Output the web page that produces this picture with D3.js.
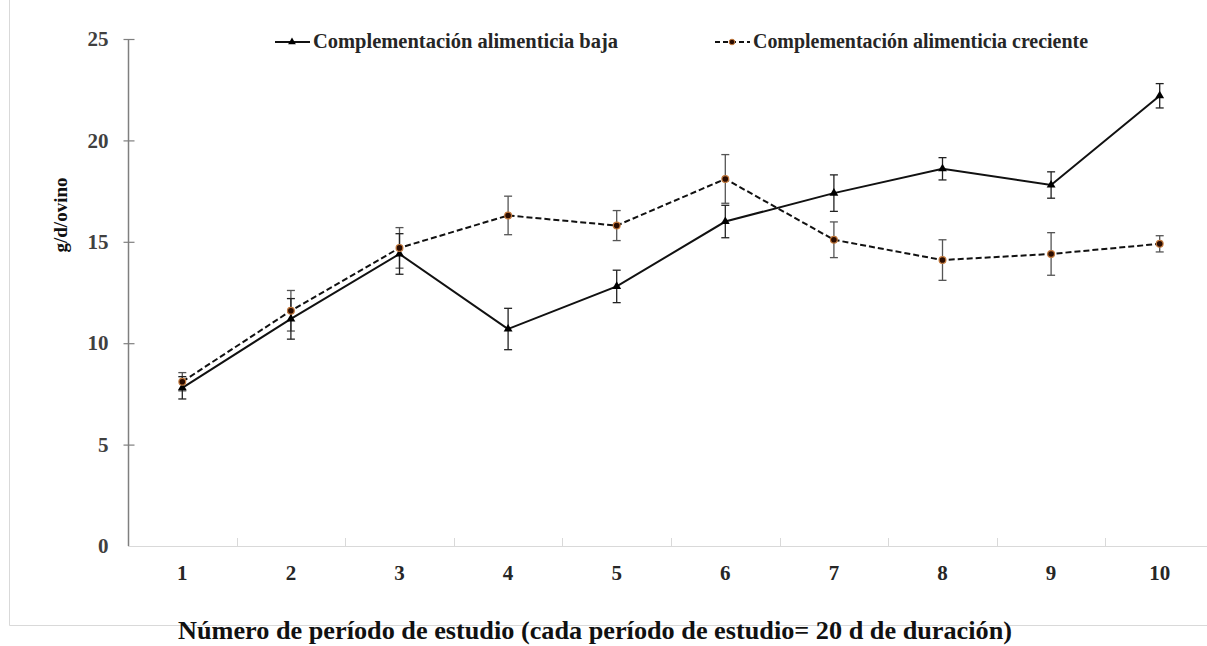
<!DOCTYPE html>
<html>
<head>
<meta charset="utf-8">
<script src="https://cdn.jsdelivr.net/npm/d3@7"></script>
<style>
  html, body { margin: 0; padding: 0; background: #fff; }
  svg text { font-family: 'Liberation Serif', 'Times New Roman', Times, serif !important; }
</style>
</head>
<body>
<svg id="chart" width="1207" height="646"></svg>
<script>
// Study periods (20 d each)
const periods = [1, 2, 3, 4, 5, 6, 7, 8, 9, 10];
// Daily gain, g/d/ovino
const bajaValues      = [7.8, 11.2, 14.4, 10.7, 12.8, 16.0, 17.4, 18.6, 17.8, 22.2];
const bajaErrors      = [0.55, 1.0, 1.0, 1.02, 0.8, 0.8, 0.9, 0.55, 0.65, 0.6];
const crecienteValues = [8.1, 11.6, 14.7, 16.3, 15.8, 18.1, 15.1, 14.1, 14.4, 14.9];
const crecienteErrors = [0.45, 1.0, 1.0, 0.95, 0.74, 1.2, 0.88, 1.0, 1.05, 0.4];
const yTicks = [0, 5, 10, 15, 20, 25];
const seriesNames = ["Complementación alimenticia baja", "Complementación alimenticia creciente"];
const yLabel = "g/d/ovino";
const xLabel = "Número de período de estudio (cada período de estudio= 20 d de duración)";

const svg = d3.select("#chart");

// outer frame
svg.append("path")
  .attr("d", "M9.5,-1 V625.5 H1208")
  .attr("fill", "none").attr("stroke", "#d9d9d9").attr("stroke-width", 1);

const x = d3.scaleBand().domain(periods).range([128, 1214]).paddingInner(0).paddingOuter(0);
const y = d3.scaleLinear().domain([0, 25]).range([546, 39]);
const cx = d => x(d) + x.bandwidth() / 2;

// x axis: light category line with upward boundary ticks
svg.append("line")
  .attr("x1", 128).attr("x2", 1207).attr("y1", y(0) + 0.5).attr("y2", y(0) + 0.5)
  .attr("stroke", "#d9d9d9").attr("stroke-width", 1.2);
svg.selectAll(".xtick").data(periods.slice(1)).enter().append("line")
  .attr("x1", d => Math.round(x(d)) + 0.5).attr("x2", d => Math.round(x(d)) + 0.5)
  .attr("y1", y(0)).attr("y2", y(0) - 8)
  .attr("stroke", "#d9d9d9").attr("stroke-width", 1);
svg.selectAll(".xlab").data(periods).enter().append("text")
  .attr("x", d => cx(d)).attr("y", 580)
  .attr("text-anchor", "middle")
  .attr("font-size", 21).attr("font-weight", "bold").attr("fill", "#262626")
  .text(d => d);

// y axis
const yAxis = d3.axisLeft(y).tickValues(yTicks).tickSize(0).tickPadding(20);
const gy = svg.append("g").attr("transform", "translate(128.5,0)").call(yAxis);
gy.select(".domain").attr("stroke", "#7f7f7f").attr("stroke-width", 1.5)
  .attr("d", `M0,${y(25)}V${y(0)}`);
gy.selectAll(".tick text")
  .attr("font-size", 21).attr("font-weight", "bold").attr("fill", "#404040")
  .attr("dy", "0.32em");
gy.selectAll(".tick").filter(d => d > 0).append("line")
  .attr("x1", -5).attr("x2", 6).attr("stroke", "#7f7f7f").attr("stroke-width", 1.2);

// axis titles
svg.append("text")
  .attr("transform", "translate(67,215) rotate(-90)")
  .attr("text-anchor", "middle")
  .attr("font-size", 19).attr("font-weight", "bold").attr("fill", "#111")
  .text(yLabel);
svg.append("text")
  .attr("x", 178).attr("y", 639)
  .attr("textLength", 834).attr("lengthAdjust", "spacingAndGlyphs")
  .attr("font-size", 25).attr("font-weight", "bold").attr("fill", "#111")
  .text(xLabel);

const line = d3.line().x((d, i) => cx(periods[i])).y(d => y(d));

function errorBars(values, errors, color) {
  const g = svg.append("g").attr("stroke", color).attr("stroke-width", 1.3).attr("fill", "none");
  values.forEach((v, i) => {
    const px = cx(periods[i]);
    const top = y(v + errors[i]), bot = y(v - errors[i]);
    g.append("line").attr("x1", px).attr("x2", px).attr("y1", top).attr("y2", bot);
    g.append("line").attr("x1", px - 4).attr("x2", px + 4).attr("y1", top).attr("y2", top);
    g.append("line").attr("x1", px - 4).attr("x2", px + 4).attr("y1", bot).attr("y2", bot);
  });
}

errorBars(crecienteValues, crecienteErrors, "#555");
errorBars(bajaValues, bajaErrors, "#222");

// series lines
svg.append("path").datum(crecienteValues)
  .attr("d", line).attr("fill", "none")
  .attr("stroke", "#111").attr("stroke-width", 2).attr("stroke-dasharray", "6,3");
svg.append("path").datum(bajaValues)
  .attr("d", line).attr("fill", "none")
  .attr("stroke", "#111").attr("stroke-width", 2);

// markers
const triPath = d3.symbol().type(d3.symbolTriangle).size(34)();
svg.selectAll(".tri").data(bajaValues).enter().append("path")
  .attr("d", triPath)
  .attr("transform", (d, i) => `translate(${cx(periods[i])},${y(d)})`)
  .attr("fill", "#000");
svg.selectAll(".dot").data(crecienteValues).enter().append("circle")
  .attr("cx", (d, i) => cx(periods[i])).attr("cy", d => y(d)).attr("r", 3.4)
  .attr("fill", "#2a0c00").attr("stroke", "#c47a3d").attr("stroke-width", 1.2);

// legend
const leg = svg.append("g");
leg.append("line").attr("x1", 275).attr("x2", 310).attr("y1", 42).attr("y2", 42)
  .attr("stroke", "#111").attr("stroke-width", 2);
leg.append("path").attr("d", d3.symbol().type(d3.symbolTriangle).size(26)())
  .attr("transform", "translate(292,42)").attr("fill", "#000");
leg.append("text").attr("x", 313).attr("y", 48)
  .attr("textLength", 305).attr("lengthAdjust", "spacingAndGlyphs")
  .attr("font-size", 20).attr("font-weight", "bold").attr("fill", "#262626")
  .text(seriesNames[0]);
leg.append("line").attr("x1", 715).attr("x2", 750).attr("y1", 42).attr("y2", 42)
  .attr("stroke", "#111").attr("stroke-width", 2).attr("stroke-dasharray", "5,3");
leg.append("circle").attr("cx", 732).attr("cy", 42).attr("r", 2.8)
  .attr("fill", "#2a0c00").attr("stroke", "#c47a3d").attr("stroke-width", 1);
leg.append("text").attr("x", 753).attr("y", 48)
  .attr("textLength", 335).attr("lengthAdjust", "spacingAndGlyphs")
  .attr("font-size", 20).attr("font-weight", "bold").attr("fill", "#262626")
  .text(seriesNames[1]);
</script>
</body>
</html>
